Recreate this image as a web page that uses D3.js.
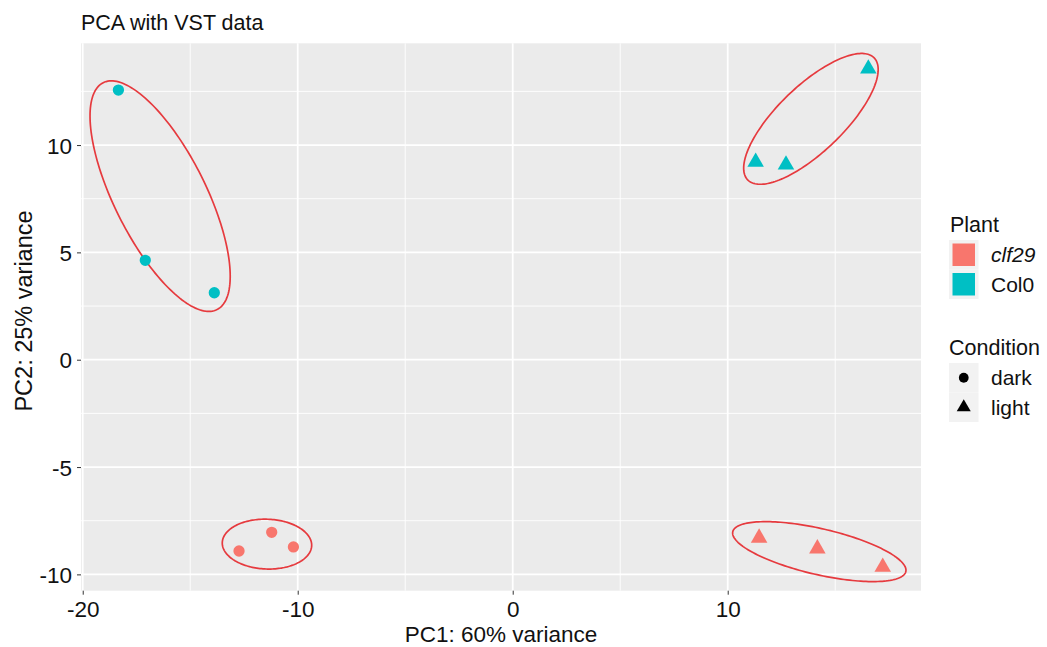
<!DOCTYPE html>
<html>
<head>
<meta charset="utf-8">
<script src="https://cdn.jsdelivr.net/npm/d3@7"></script>
<style>
  html, body { margin: 0; padding: 0; background: #ffffff; }
  svg { display: block; font-family: "Liberation Sans", Arial, sans-serif; }
</style>
</head>
<body>
<svg id="chart" width="1047" height="647"></svg>
<script>
// ---- data ----
const sampleIds   = ["C_d1","C_d2","C_d3","C_l1","C_l2","C_l3","K_d1","K_d2","K_d3","K_l1","K_l2","K_l3"];
const plant       = ["Col0","Col0","Col0","Col0","Col0","Col0","clf29","clf29","clf29","clf29","clf29","clf29"];
const condition   = ["dark","dark","dark","light","light","light","dark","dark","dark","light","light","light"];
const pc1         = [-18.34, -17.09, -13.88, 16.54, 11.30, 12.71, -12.73, -11.21, -10.20, 11.46, 14.17, 17.21];
const pc2         = [ 12.56,   4.63,   3.12, 13.55,  9.21,  9.08,  -8.91,  -8.04,  -8.72, -8.30, -8.80, -9.66];

// group ellipses (data units): centre, semi-axes, rotation (degrees)
const ellipseCx    = [-16.40, 13.87, -11.43, 14.26];
const ellipseCy    = [  7.62, 11.22,  -8.59, -8.94];
const ellipseA     = [  5.91,  4.09,   2.08,  4.13];
const ellipseB     = [  2.13,  1.53,   1.16,  1.07];
const ellipseAngle = [-63.4,  44.0,   -2.0, -13.0];

const xTicks = [-20, -10, 0, 10];
const yTicks = [-10, -5, 0, 5, 10];
const xMinor = [-15, -5, 5, 15];
const yMinor = [-7.5, -2.5, 2.5, 7.5, 12.5];

const plantLevels = ["clf29", "Col0"];
const plantColors = ["#F8766D", "#00BFC4"];
const condLevels  = ["dark", "light"];

const titleText = "PCA with VST data";
const xTitle = "PC1: 60% variance";
const yTitle = "PC2: 25% variance";

// ---- layout ----
const svg = d3.select("#chart");
const panel = { left: 81, right: 921, top: 43.3, bottom: 590.7 };

const x = d3.scaleLinear().domain([-20.08, 18.99]).range([panel.left, panel.right]);
const y = d3.scaleLinear().domain([-10.76, 14.74]).range([panel.bottom, panel.top]);
const color = d3.scaleOrdinal().domain(plantLevels).range(plantColors);
const shapeType = d3.scaleOrdinal().domain(condLevels).range([d3.symbolCircle, d3.symbolTriangle]);

// panel background
svg.append("rect")
  .attr("x", panel.left).attr("y", panel.top)
  .attr("width", panel.right - panel.left).attr("height", panel.bottom - panel.top)
  .attr("fill", "#EBEBEB");

// grid lines
const grid = svg.append("g");
grid.selectAll(".xminor").data(xMinor).join("line")
  .attr("x1", d => x(d)).attr("x2", d => x(d))
  .attr("y1", panel.top).attr("y2", panel.bottom)
  .attr("stroke", "#fff").attr("stroke-width", 0.9);
grid.selectAll(".yminor").data(yMinor).join("line")
  .attr("y1", d => y(d)).attr("y2", d => y(d))
  .attr("x1", panel.left).attr("x2", panel.right)
  .attr("stroke", "#fff").attr("stroke-width", 0.9);
grid.selectAll(".xmajor").data(xTicks).join("line")
  .attr("x1", d => x(d)).attr("x2", d => x(d))
  .attr("y1", panel.top).attr("y2", panel.bottom)
  .attr("stroke", "#fff").attr("stroke-width", 1.8);
grid.selectAll(".ymajor").data(yTicks).join("line")
  .attr("y1", d => y(d)).attr("y2", d => y(d))
  .attr("x1", panel.left).attr("x2", panel.right)
  .attr("stroke", "#fff").attr("stroke-width", 1.8);

// axes
const xAxis = svg.append("g")
  .attr("transform", `translate(0,${panel.bottom})`)
  .call(d3.axisBottom(x).tickValues(xTicks).tickSize(4).tickPadding(6).tickFormat(d3.format("d")));
const yAxis = svg.append("g")
  .attr("transform", `translate(${panel.left},0)`)
  .call(d3.axisLeft(y).tickValues(yTicks).tickSize(4).tickPadding(5).tickFormat(d3.format("d")));
[xAxis, yAxis].forEach(g => {
  g.select(".domain").remove();
  g.selectAll(".tick line").attr("stroke", "#333").attr("stroke-width", 1);
  g.selectAll(".tick text").attr("fill", "#111").style("font-size", "22.5px")
    .style("font-family", "'Liberation Sans', Arial, sans-serif");
});
xAxis.selectAll(".tick text").attr("dy", 16.3);
yAxis.selectAll(".tick text").attr("dy", "0.36em");
// ASCII hyphen-minus as in the reference
xAxis.selectAll(".tick text").text(d => String(d));
yAxis.selectAll(".tick text").text(d => String(d));

// ellipses
const ellipseData = ellipseCx.map((cx, i) => ({
  cx, cy: ellipseCy[i], a: ellipseA[i], b: ellipseB[i], ang: ellipseAngle[i] * Math.PI / 180
}));
const line = d3.line().curve(d3.curveLinearClosed);
svg.append("g").selectAll("path").data(ellipseData).join("path")
  .attr("d", e => {
    const pts = d3.range(0, 360, 2).map(t => {
      const r = t * Math.PI / 180;
      const ux = e.a * Math.cos(r), uy = e.b * Math.sin(r);
      const dx = ux * Math.cos(e.ang) - uy * Math.sin(e.ang);
      const dy = ux * Math.sin(e.ang) + uy * Math.cos(e.ang);
      return [x(e.cx + dx), y(e.cy + dy)];
    });
    return line(pts);
  })
  .attr("fill", "none").attr("stroke", "#E63A3E").attr("stroke-width", 1.7);

// points
const points = sampleIds.map((id, i) => ({ id, plant: plant[i], cond: condition[i], pc1: pc1[i], pc2: pc2[i] }));
const sym = d3.symbol();
svg.append("g").selectAll("path").data(points).join("path")
  .attr("transform", d => `translate(${x(d.pc1)},${y(d.pc2)})`)
  .attr("d", d => sym.type(shapeType(d.cond)).size(d.cond === "dark" ? 100 : 118)())
  .attr("fill", d => color(d.plant));

// title
svg.append("text").attr("x", 81).attr("y", 29.5)
  .style("font-size", "21.5px").attr("fill", "#111").text(titleText);

// axis titles
svg.append("text").attr("x", (panel.left + panel.right) / 2).attr("y", 642.3)
  .attr("text-anchor", "middle").style("font-size", "22.5px").attr("fill", "#111").text(xTitle);
svg.append("text")
  .attr("transform", `translate(31.5,${(panel.top + panel.bottom) / 2 - 6}) rotate(-90)`)
  .attr("text-anchor", "middle").style("font-size", "23.5px").attr("fill", "#111").text(yTitle);

// legends
const leg = svg.append("g");
const keyX = 949, keyW = 29.5, keyH = 29.5, labelX = 991;

leg.append("text").attr("x", 950).attr("y", 232).style("font-size", "21.5px").attr("fill", "#111").text("Plant");
plantLevels.forEach((p, i) => {
  const top = 240 + i * keyH;
  leg.append("rect").attr("x", keyX).attr("y", top).attr("width", keyW).attr("height", keyH).attr("fill", "#F2F2F2");
  leg.append("rect").attr("x", keyX + 3.5).attr("y", top + 3.5).attr("width", keyW - 7).attr("height", keyH - 7)
    .attr("fill", color(p));
  leg.append("text").attr("x", labelX).attr("y", top + keyH / 2).attr("dy", "0.36em")
    .style("font-size", "21px").style("font-style", i === 0 ? "italic" : "normal")
    .attr("fill", "#111").text(p);
});

leg.append("text").attr("x", 949).attr("y", 355).style("font-size", "21.5px").attr("fill", "#111").text("Condition");
condLevels.forEach((c, i) => {
  const top = 363 + i * keyH;
  leg.append("rect").attr("x", keyX).attr("y", top).attr("width", keyW).attr("height", keyH).attr("fill", "#F2F2F2");
  leg.append("path").attr("transform", `translate(${keyX + keyW / 2},${top + keyH / 2})`)
    .attr("d", sym.type(shapeType(c)).size(c === "dark" ? 75 : 85)()).attr("fill", "#000");
  leg.append("text").attr("x", labelX).attr("y", top + keyH / 2).attr("dy", "0.36em")
    .style("font-size", "21px").attr("fill", "#111").text(c);
});
</script>
</body>
</html>
